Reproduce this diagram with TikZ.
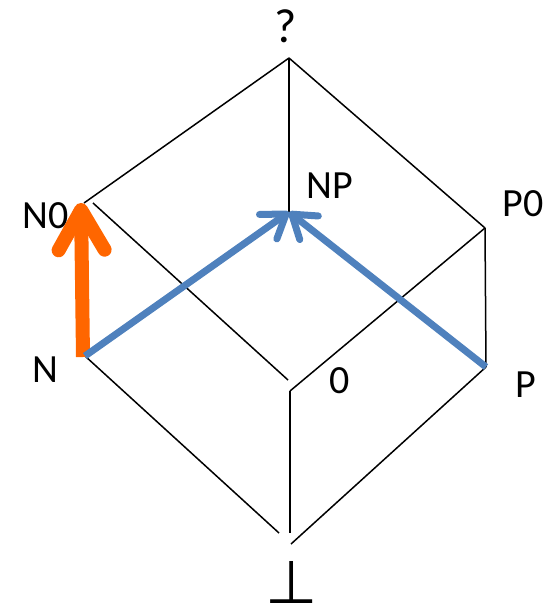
\documentclass[tikz,border=0pt]{standalone}
\usepackage{fontspec}
\setmainfont{Carlito}
\newfontfamily\symfont{DejaVu Sans}
\usetikzlibrary{arrows.meta}
\definecolor{edgeorange}{RGB}{255,102,0}
\definecolor{edgeblue}{RGB}{79,129,189}
\begin{document}
\begin{tikzpicture}[x=1pt,y=-1pt,
  edge/.style={draw=black,line width=1.5pt},
  lbl/.style={font=\fontsize{40}{48}\selectfont,inner sep=0pt,anchor=center},
  orangearrow/.style={draw=edgeorange,line width=14pt,
    -{Straight Barb[length=40pt,width=46pt,round]}},
  bluearrow/.style={draw=edgeblue,line width=7pt,
    -{Straight Barb[length=22pt,width=30pt,round]}}]
\useasboundingbox (0,0) rectangle (546,609);
% lattice points
\coordinate (T)   at (289,58);
\coordinate (N0)  at (84,203);
\coordinate (N0b) at (93,203);
\coordinate (N0t) at (81,203);
\coordinate (NP)  at (289,212);
\coordinate (P0)  at (485,228);
\coordinate (N)   at (85,356);
\coordinate (Z)   at (290,391);
\coordinate (Zl)  at (288,380);
\coordinate (P)   at (486,367);
\coordinate (B)   at (290,533);
\coordinate (Bl)  at (279,533);
\coordinate (Br)  at (291,544);
% labels
\node[lbl,font=\fontsize{48}{56}\selectfont] (lT) at (286,26) {?};
\node[lbl] (lN0) at (46,216)  {N0};
\node[lbl] (lNP) at (330,186) {NP};
\node[lbl] (lP0) at (523,204) {P0};
\node[lbl] (lN)  at (45,370)  {N};
\node[lbl] (lZ)  at (340,381) {0};
\node[lbl] (lP)  at (526,385) {P};
\node[inner sep=0pt,anchor=base,font=\symfont\fontsize{60}{60}\selectfont] (lB) at (292,603) {⊥};
% cube edges
\draw[edge] (T) -- (N0);
\draw[edge] (T) -- (NP);
\draw[edge] (T) -- (P0);
\draw[edge] (N0b) -- (Zl);
\draw[edge] (P0) -- (Z);
\draw[edge] (P0) -- (P);
\draw[edge] (N) -- (NP);
\draw[edge] (P) -- (NP);
\draw[edge] (N) -- (Bl);
\draw[edge] (Z) -- (B);
\draw[edge] (P) -- (Br);
% highlighted moves
\draw[orangearrow] (83,357) -- (N0t);
\draw[bluearrow] (N) -- (NP);
\draw[bluearrow] (P) -- (NP);
\end{tikzpicture}
\end{document}
